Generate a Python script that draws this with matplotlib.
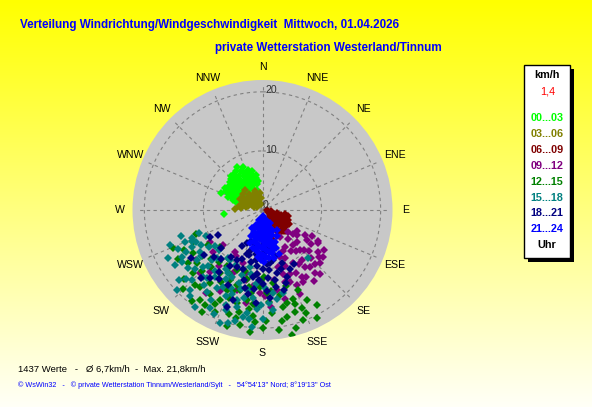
import numpy as np
import matplotlib
matplotlib.use("Agg")
import matplotlib.pyplot as plt
from matplotlib.patches import Rectangle

plt.rcParams['font.family'] = ['Liberation Sans', 'DejaVu Sans']

# wind direction (deg, from N clockwise) and speed (km/h), grouped by time of day
dir_00_03 = [329, 335, 340, 345, 350, 352, 322, 318, 325, 332, 338, 343, 347, 315, 320, 328, 334, 340,
             310, 305, 300, 292, 296, 302, 308, 312, 318, 325, 330, 336, 298, 305, 312, 320, 290, 288,
             295, 302, 310, 318, 264, 285, 300, 315, 323, 333, 345, 326,
             326, 331, 337, 342, 316, 321, 327, 333, 339, 344, 308, 313, 303, 297, 294, 300, 307, 314,
             322, 331, 336, 348, 317, 311]
spd_00_03 = [8.5, 8.0, 7.2, 6.8, 6.0, 5.0, 7.8, 7.2, 7.0, 6.5, 6.0, 5.5, 4.5, 6.5, 6.2, 5.8, 5.2, 4.5,
             6.8, 7.0, 7.3, 7.5, 6.5, 6.0, 5.8, 5.5, 5.0, 4.8, 4.2, 3.8, 5.5, 5.0, 4.5, 4.0, 6.2, 5.3,
             4.8, 4.2, 3.8, 3.3, 6.6, 4.5, 3.5, 7.5, 6.5, 7.2, 3.5, 3.0,
             7.9, 7.6, 6.9, 6.2, 6.9, 5.5, 5.0, 4.6, 5.0, 6.0, 6.2, 6.0, 6.6, 7.0, 5.9, 5.0, 4.8, 4.2,
             4.4, 5.6, 5.9, 5.5, 7.9, 7.3]

dir_03_06 = [273, 280, 290, 300, 310, 320, 330, 340, 351, 355, 285, 295, 305, 315, 325, 300, 310, 320,
             335, 290, 345, 280, 315, 330, 305, 298, 340, 318,
             292, 302, 312, 322, 328, 308, 296, 286, 276, 336]
spd_03_06 = [4.7, 4.0, 3.5, 2.8, 3.0, 2.5, 2.2, 2.0, 2.9, 2.0, 2.5, 2.0, 1.8, 1.5, 1.2, 4.0, 4.2, 3.6,
             3.2, 1.5, 1.0, 2.8, 2.0, 1.6, 3.3, 1.0, 3.5, 4.5,
             3.0, 3.6, 3.4, 3.0, 2.8, 2.4, 4.3, 3.3, 3.7, 2.6]

dir_06_09 = [100, 105, 110, 115, 120, 125, 130, 135, 140, 145, 150, 160, 110, 120, 130, 140, 95, 105,
             125, 135, 115, 128, 150, 155, 118, 100, 145, 138, 90, 165,
             112, 122, 132, 142, 108, 126, 136, 148, 116, 103]
spd_06_09 = [2.5, 3.2, 3.8, 4.3, 4.4, 4.0, 4.3, 3.6, 3.0, 4.4, 3.5, 5.4, 2.0, 2.8, 2.2, 1.8, 1.5, 1.0,
             1.5, 5.0, 3.5, 3.2, 2.5, 4.0, 5.0, 3.8, 2.5, 4.8, 0.8, 1.5,
             4.6, 3.4, 5.2, 4.0, 3.0, 4.8, 2.8, 5.0, 2.4, 4.4]

dir_09_12 = [130, 126, 120.5, 121, 129.6, 140.3, 140, 137, 150, 162, 159, 148.5, 147, 149.6, 155.5, 132.8,
             171, 125, 133, 142, 145, 135, 155, 152, 128, 138, 118, 144, 160, 165, 123, 139,
             124, 131, 136, 143, 146, 151, 157, 163, 127, 134, 141, 153, 158, 122, 119, 128, 147, 138, 156,
             239, 228, 214, 213, 193, 185, 182, 198, 170, 220, 205, 190, 175, 225, 200, 166,
             210, 218, 230, 195, 187, 178, 208, 233]
spd_09_12 = [5.7, 7.2, 8.4, 11.0, 12.4, 13.9, 12.5, 9.3, 10.4, 11.3, 13.0, 7.3, 5.4, 13.1, 14.0, 13.3,
             12.0, 10.0, 8.0, 10.8, 8.5, 11.5, 9.0, 12.0, 6.5, 6.5, 9.5, 14.8, 8.5, 10.0, 12.5, 7.8,
             9.0, 10.5, 12.8, 12.0, 11.0, 14.0, 11.8, 12.8, 11.8, 9.8, 9.0, 7.8, 10.2, 6.8, 10.8, 13.0, 13.5, 14.5, 15.5,
             10.4, 8.9, 17.0, 8.5, 12.2, 10.8, 14.1, 14.2, 13.8, 13.7, 11.5, 16.0, 16.5, 15.0, 9.5, 15.5,
             9.0, 12.0, 11.0, 11.0, 13.0, 14.5, 15.5, 14.0]

dir_12_15 = [166.6, 153.4, 159.6, 162.3, 165.5, 168.4, 210.9, 234.3, 229, 237, 191, 185.6, 195.5, 205.3,
             219.2, 204.9, 179, 177, 190, 213.9, 227.6, 212.2, 153.8, 155.9, 160.8, 229, 198, 185, 200,
             210, 222, 215, 175, 170, 182, 193, 203, 220, 245, 240, 225, 172, 188, 197, 163, 180, 208,
             233, 214, 196, 183, 168, 158, 205, 225, 190, 176, 250,
             172, 178, 186, 193, 201, 207, 216, 222, 231, 238, 243, 247, 218, 211, 199, 188, 181, 174,
             167, 161, 157, 150, 164, 184, 194, 226, 204, 212, 196]
spd_12_15 = [21.8, 20.5, 19.9, 18.1, 16.3, 14.7, 20.1, 15.5, 17.7, 10.9, 19.9, 15.9, 16.4, 16.9,
             16.8, 13.1, 11.3, 14.1, 15.5, 12.9, 15.9, 16.7, 17.0, 14.9, 15.9, 9.5, 18.5, 18.0, 14.5,
             14.0, 13.0, 18.5, 17.5, 19.0, 13.0, 12.0, 11.0, 11.5, 13.0, 16.5, 19.0, 12.5, 17.0, 20.5,
             13.5, 20.0, 12.0, 12.8, 10.0, 14.0, 16.5, 16.8, 17.8, 19.0, 14.5, 13.2, 15.6, 12.0,
             20.5, 18.8, 20.8, 17.8, 16.0, 17.8, 15.2, 17.0, 14.2, 13.8, 15.0, 16.5, 19.5, 18.8, 13.5, 14.2, 12.0, 13.8,
             18.5, 16.8, 19.0, 18.5, 20.8, 19.0, 18.8, 12.0, 14.8, 11.2, 10.8]

dir_15_18 = [249.3, 247.8, 244.3, 200.6, 190.2, 222.2, 240, 225.5, 213, 192.4, 200.3, 188.7, 207, 221.6,
             183.4, 172.6, 136.5, 166, 232.8, 225.3, 235, 242, 230, 218, 210, 204, 198, 195, 185, 215,
             205, 195, 180, 228, 238, 245, 252, 212, 218, 203, 192, 226, 236, 178, 174, 210, 220, 200,
             250, 215, 185, 232, 206, 190, 245, 227, 198,
             246, 241, 237, 233, 229, 224, 219, 214, 208, 202, 196, 190, 186, 181, 176, 171, 208, 201,
             194, 223, 233, 240, 248, 216, 209, 187, 197, 228, 220, 243]
spd_15_18 = [16.8, 14.2, 12.4, 20.5, 18.4, 18.3, 15.8, 12.1, 10.1, 9.8, 15.1, 17.7, 14.6, 15.1,
             16.7, 14.2, 11.3, 14.5, 14.0, 16.9, 11.0, 13.5, 18.5, 13.0, 17.5, 12.5, 11.5, 13.8, 12.5, 20.0,
             19.5, 17.0, 18.5, 10.0, 17.5, 10.5, 14.5, 11.8, 16.0, 15.8, 15.2, 14.0, 12.8, 13.2, 17.0, 15.3,
             10.8, 18.0, 11.5, 13.9, 19.8, 16.0, 10.3, 11.0, 15.8, 19.8, 13.0,
             13.0, 14.8, 16.2, 13.0, 15.2, 13.2, 14.8, 16.8, 13.2, 14.2, 15.8, 13.8, 15.0, 16.0, 15.8, 15.2, 18.8, 17.2,
             19.3, 11.2, 10.0, 12.0, 12.8, 10.0, 12.2, 18.6, 20.0, 17.5, 19.0, 18.0]

dir_18_21 = [195, 185, 200, 178, 205, 190, 170, 197, 210, 182, 165, 200, 188, 168, 175, 192, 207, 160,
             180, 167, 185, 198, 175, 188, 210, 160, 180, 195, 215, 170, 240, 243, 228, 220, 232, 200,
             205, 190, 175, 222, 212, 155, 172, 186, 236, 150, 203, 165,
             178, 193, 186, 174, 170, 196, 183, 177, 163, 204, 193, 214, 226, 180, 188, 172, 162, 218, 198, 184]
spd_18_21 = [4.5, 5.0, 5.5, 5.8, 6.2, 6.5, 6.8, 7.2, 7.0, 7.6, 8.0, 7.9, 8.5, 8.7, 9.2, 9.0, 9.5, 9.5,
             10.0, 11.0, 10.8, 10.5, 11.5, 11.4, 11.0, 12.0, 12.5, 12.2, 12.8, 13.2, 8.6, 10.0, 9.5, 10.8,
             12.5, 17.5, 14.0, 14.5, 15.0, 15.5, 13.8, 11.0, 6.0, 13.5, 14.5, 10.5, 9.0, 14.0,
             7.2, 6.0, 9.5, 10.2, 12.0, 8.0, 11.8, 13.8, 10.5, 10.5, 13.5, 9.5, 11.5, 8.0, 7.5, 9.0, 13.0, 14.5, 16.0, 15.8]

dir_21_24 = [180, 170, 190, 160, 175, 195, 205, 150, 165, 180, 195, 210, 155, 170, 185, 200, 145, 160,
             175, 190, 205, 150, 165, 180, 195, 158, 170, 185, 200, 163, 175, 188, 168, 180, 172, 160,
             178, 164, 190, 182, 168, 188, 198, 155, 176, 165, 162, 185,
             178, 186, 172, 163, 192, 198, 168, 184, 174, 190, 166, 181, 194, 171, 184, 176, 167, 182,
             160, 186, 174, 158, 200, 188, 170]
spd_21_24 = [1.0, 1.5, 1.5, 2.0, 2.2, 2.2, 2.8, 2.5, 3.0, 3.0, 3.2, 3.5, 3.5, 3.8, 3.8, 4.0, 4.2, 4.5,
             4.5, 4.6, 4.8, 5.0, 5.2, 5.3, 5.5, 5.8, 6.0, 6.2, 6.0, 6.6, 6.8, 7.0, 7.4, 7.6, 8.2, 8.0,
             8.8, 6.5, 5.0, 4.2, 2.6, 2.6, 1.8, 4.0, 5.8, 7.0, 6.0, 8.0,
             1.8, 3.3, 3.4, 4.0, 4.0, 4.5, 4.8, 5.0, 5.6, 5.8, 6.2, 6.5, 6.7, 7.2, 7.3, 7.9, 8.4, 8.4,
             6.8, 2.0, 1.2, 3.2, 3.0, 6.5, 5.0]

band_labels = ["00...03", "03...06", "06...09", "09...12", "12...15", "15...18", "18...21", "21...24"]
band_colors = ["#00FF00", "#808000", "#800000", "#800080", "#008000", "#008080", "#000080", "#0000FF"]
band_dirs = [dir_00_03, dir_03_06, dir_06_09, dir_09_12, dir_12_15, dir_15_18, dir_18_21, dir_21_24]
band_spds = [spd_00_03, spd_03_06, spd_06_09, spd_09_12, spd_12_15, spd_15_18, spd_18_21, spd_21_24]

compass = ["N", "NNE", "NE", "ENE", "E", "ESE", "SE", "SSE",
           "S", "SSW", "SW", "WSW", "W", "WNW", "NW", "NNW"]

W, H = 592, 407
fig = plt.figure(figsize=(W / 100, H / 100), dpi=100)

# background gradient + pixel-coordinate layer for texts and the legend box
bg = fig.add_axes([0, 0, 1, 1])
grad = np.linspace(0, 1, 256).reshape(-1, 1)
img = np.ones((256, 1, 3))
img[:, 0, 2] = grad[:, 0] * 0.97
bg.imshow(img, extent=[0, W, H, 0], aspect='auto')
bg.set_xlim(0, W)
bg.set_ylim(H, 0)
bg.axis('off')

bg.text(20, 25, "Verteilung Windrichtung/Windgeschwindigkeit  Mittwoch, 01.04.2026",
        color="#0000FF", fontsize=8.4, fontweight='bold', va='center', ha='left')
bg.text(215, 48, "private Wetterstation Westerland/Tinnum",
        color="#0000FF", fontsize=8.4, fontweight='bold', va='center', ha='left')
bg.text(18, 369, "1437 Werte   -   \u00d8 6,7km/h  -  Max. 21,8km/h",
        color="black", fontsize=6.8, va='center', ha='left')
bg.text(18, 385, "\u00a9 WsWin32   -   \u00a9 private Wetterstation Tinnum/Westerland/Sylt   -   "
        "54\u00b054'13'' Nord; 8\u00b019'13'' Ost",
        color="#0000FF", fontsize=5.2, va='center', ha='left')

# legend box with shadow
bg.add_patch(Rectangle((528, 69), 46, 193, facecolor='black', edgecolor='none'))
bg.add_patch(Rectangle((524, 65), 46, 193, facecolor='white', edgecolor='black', linewidth=1))
bg.text(547, 75, "km/h", fontsize=7.8, fontweight='bold', ha='center', va='center')
bg.text(548, 92, "1,4", fontsize=7.8, color='red', ha='center', va='center')
for k, (lab, col) in enumerate(zip(band_labels, band_colors)):
    bg.text(547, 118.3 + k * 15.85, lab, fontsize=7.8, fontweight='bold',
            color=col, ha='center', va='center')
bg.text(547, 245, "Uhr", fontsize=7.8, fontweight='bold', ha='center', va='center')

# polar wind plot
cx, cy, rad = 262.5, 210, 130
ax = fig.add_axes([(cx - rad) / W, 1 - (cy + rad) / H, 2 * rad / W, 2 * rad / H], projection='polar')
ax.set_theta_zero_location('N')
ax.set_theta_direction(-1)
ax.set_ylim(0, 22)
ax.set_facecolor('#C8C8C8')
ax.spines['polar'].set_visible(False)
ax.grid(False)
ax.set_xticks([])
ax.set_yticks([])

gcol = '#808080'
for k in range(16):
    th = np.radians(k * 22.5)
    ax.plot([th, th], [0, 21.3], color=gcol, lw=0.8, ls=(0, (3, 3)), zorder=1)
ring_th = np.linspace(0, 2 * np.pi, 361)
for r in (10, 20):
    ax.plot(ring_th, np.full_like(ring_th, r), color=gcol, lw=0.8, ls=(0, (3, 3)), zorder=1)

for txt, th, r in (("20", 4, 20.3), ("10", 8, 10.3), ("0", 35, 1.0)):
    ax.text(np.radians(th), r, txt, fontsize=7.6, color='#303030', ha='center', va='center', zorder=5)

for k, name in enumerate(compass):
    ax.text(np.radians(k * 22.5), 24.2, name, fontsize=7.6, color='black',
            ha='center', va='center', clip_on=False)

for d, s, col in zip(band_dirs, band_spds, band_colors):
    ax.plot(np.radians(d), s, linestyle='none', marker='D', markersize=4.2,
            markerfacecolor=col, markeredgewidth=0, zorder=3)

fig.savefig("out.png", dpi=100)
